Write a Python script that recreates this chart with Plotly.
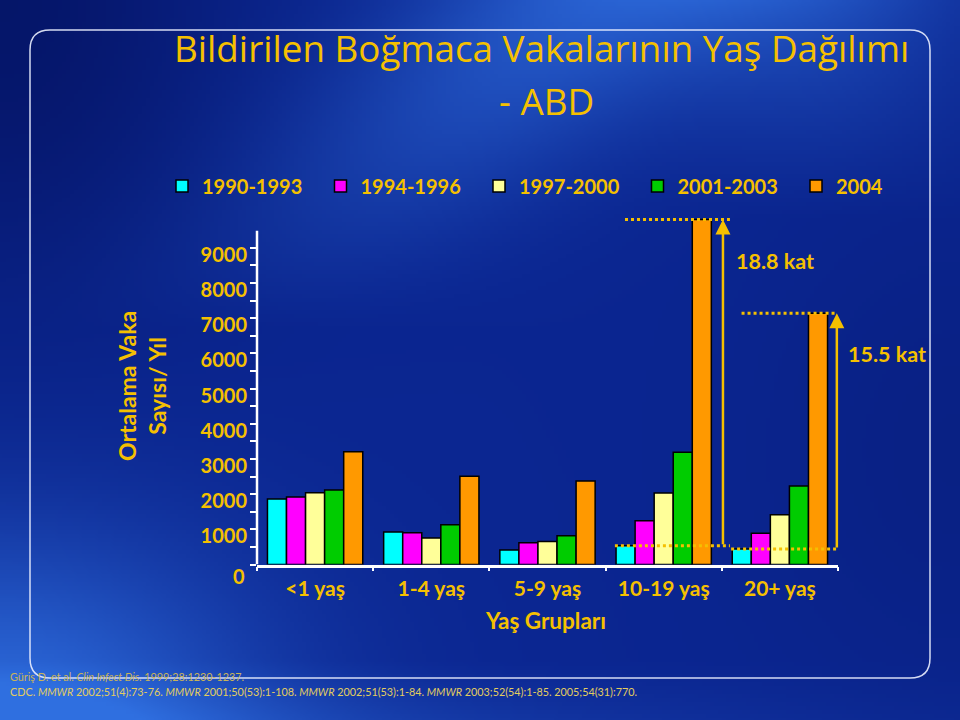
import base64, struct, zlib
import numpy as np
import plotly.graph_objects as go

# ---------------- data ----------------
categories = ["<1 yaş", "1-4 yaş", "5-9 yaş", "10-19 yaş", "20+ yaş"]
series_names = ["1990-1993", "1994-1996", "1997-2000", "2001-2003", "2004"]
v_1990_1993 = [1860, 920, 410, 530, 440]
v_1994_1996 = [1920, 900, 620, 1240, 890]
v_1997_2000 = [2040, 750, 650, 2030, 1410]
v_2001_2003 = [2120, 1130, 820, 3190, 2230]
v_2004 = [3200, 2510, 2370, 9800, 7140]
series_values = [v_1990_1993, v_1994_1996, v_1997_2000, v_2001_2003, v_2004]
series_colors = ["#00FFFF", "#FF00FF", "#FFFF99", "#00CC00", "#FF9900"]
fold_labels = ["18.8 kat", "15.5 kat"]
fold_groups = [3, 4]
y_tick_vals = list(range(0, 9001, 500))
y_tick_text = [str(v) if (v % 1000 == 0 and v > 0) else "" for v in y_tick_vals]

W, H = 960, 720
GOLD = "#F5C000"
FONT = "Lato"
TFONT = "Open Sans"


def px(x):
    return x / W


def py(y):
    return 1 - y / H


# ---------------- background gradient (PNG data URI) ----------------
def make_bg():
    s = 4
    w, h = W // s, H // s
    X, Y = np.meshgrid((np.arange(w) + 0.5) * s, (np.arange(h) + 0.5) * s)
    base = np.array([11, 38, 145], float)
    light = np.array([48, 112, 225], float)
    dark = np.array([4, 18, 96], float)
    fl = (0.75 * np.exp(-((X - 600 + 1.1 * Y) / 190) ** 2) * np.clip(1 - Y / 330, 0, 1)
          + 0.45 * np.exp(-((X - 820) / 160) ** 2) * np.clip(1 - Y / 220, 0, 1)
          + 0.9 * np.exp(-(X / 260) ** 2 - ((H - Y) / 190) ** 2)
          + 0.35 * np.clip((Y - 660) / 60, 0, 1) * np.exp(-(X / 700) ** 2))
    fd = (0.8 * np.exp(-(X / 230) ** 2 - (Y / 300) ** 2)
          + 0.25 * np.exp(-((X - 960) / 200) ** 2 - ((Y - 450) / 250) ** 2))
    fl = np.clip(fl, 0, 1)
    fd = np.clip(fd, 0, 1)
    col = base[None, None, :] * (1 - fl[..., None]) + light[None, None, :] * fl[..., None]
    col = col * (1 - fd[..., None]) + dark[None, None, :] * fd[..., None]
    arr = np.clip(col, 0, 255).astype(np.uint8)
    raw = b"".join(b"\x00" + row.tobytes() for row in arr)

    def chunk(t, d):
        c = struct.pack(">I", len(d)) + t + d
        return c + struct.pack(">I", zlib.crc32(t + d) & 0xFFFFFFFF)

    png = b"\x89PNG\r\n\x1a\n" + chunk(b"IHDR", struct.pack(">IIBBBBB", w, h, 8, 2, 0, 0, 0)) \
        + chunk(b"IDAT", zlib.compress(raw, 9)) + chunk(b"IEND", b"")
    return "data:image/png;base64," + base64.b64encode(png).decode()


fig = go.Figure()
for name, vals, color in zip(series_names, series_values, series_colors):
    fig.add_trace(go.Bar(
        x=categories, y=vals, name=name,
        marker=dict(color=color, line=dict(color="#000000", width=1.5)),
    ))

# plot area geometry (pixels)
X0, X1 = 257, 838
Y0PX = 564.5
PX_PER_1000 = 35.2
YMAX = 10000
ytop_px = Y0PX - PX_PER_1000 * YMAX / 1000

fig.update_layout(
    width=W, height=H,
    margin=dict(l=0, r=0, t=0, b=0),
    paper_bgcolor="#0b2691", plot_bgcolor="rgba(0,0,0,0)",
    barmode="group", bargap=0.18, bargroupgap=0,
    font=dict(family=FONT, color=GOLD),
    xaxis=dict(domain=[px(X0), px(X1)], range=[-0.5, 4.5], showline=True,
               linecolor="white", linewidth=2.5, ticks="outside", tickson="boundaries",
               ticklen=4, tickcolor="white", tickwidth=2, showgrid=False, zeroline=False,
               tickfont=dict(size=21, color=GOLD, family=FONT, weight="bold"),
               ticklabelstandoff=4),
    yaxis=dict(domain=[py(Y0PX), py(ytop_px)], range=[0, YMAX], showline=False,
               showgrid=False, zeroline=False, tickvals=y_tick_vals, ticktext=y_tick_text,
               ticks="outside", ticklen=6, tickwidth=2, tickcolor="white",
               tickfont=dict(size=20, color=GOLD, family=FONT, weight="bold"),
               ticklabelstandoff=-1, ticklabelshift=7),
    legend=dict(orientation="h", x=px(162), y=py(186), xanchor="left", yanchor="middle",
                font=dict(size=20, color=GOLD, family=FONT, weight="bold"),
                bgcolor="rgba(0,0,0,0)", entrywidth=113.5, entrywidthmode="pixels",
                itemwidth=30, traceorder="normal"),
    showlegend=True,
)

fig.add_layout_image(dict(source=make_bg(), xref="paper", yref="paper", x=0, y=1,
                          sizex=1, sizey=1, sizing="stretch", layer="below"))

# rounded frame
bx0, by0, bx1, by1, r = 30, 30, 930, 678, 20
path = (f"M {px(bx0 + r)},{py(by0)} L {px(bx1 - r)},{py(by0)} "
        f"Q {px(bx1)},{py(by0)} {px(bx1)},{py(by0 + r)} L {px(bx1)},{py(by1 - r)} "
        f"Q {px(bx1)},{py(by1)} {px(bx1 - r)},{py(by1)} L {px(bx0 + r)},{py(by1)} "
        f"Q {px(bx0)},{py(by1)} {px(bx0)},{py(by1 - r)} L {px(bx0)},{py(by0 + r)} "
        f"Q {px(bx0)},{py(by0)} {px(bx0 + r)},{py(by0)} Z")
fig.add_shape(type="path", path=path, xref="paper", yref="paper",
              line=dict(color="rgba(235,240,255,0.9)", width=1.5), layer="below")

# y axis line (extends slightly above the top tick)
fig.add_shape(type="line", xref="paper", yref="y", x0=px(X0), x1=px(X0), y0=0, y1=9480,
              line=dict(color="white", width=2.5))

# fold-change markers
spans_hi = [(2.667, 3.57), (3.67, 4.49)]
spans_lo = [(2.58, 3.57), (3.58, 4.49)]
arrow_x = [3.51, 4.49]
for k, g in enumerate(fold_groups):
    hi = series_values[4][g]
    lo = series_values[0][g]
    fig.add_shape(type="line", xref="x", yref="y", x0=spans_hi[k][0], x1=spans_hi[k][1],
                  y0=hi, y1=hi, line=dict(color=GOLD, width=3, dash="dot"))
    fig.add_shape(type="line", xref="x", yref="y", x0=spans_lo[k][0], x1=spans_lo[k][1],
                  y0=lo, y1=lo, line=dict(color=GOLD, width=3, dash="dot"))
    fig.add_annotation(x=arrow_x[k], y=hi, ax=arrow_x[k], ay=lo, xref="x", yref="y",
                       axref="x", ayref="y", showarrow=True, arrowhead=2, arrowsize=1.2,
                       arrowwidth=2.5, arrowcolor=GOLD, standoff=0, startstandoff=0, text="")


def label(x, y, text, size, bold=True, family=FONT, xanchor="center", angle=0, color=GOLD):
    fig.add_annotation(x=px(x), y=py(y), xref="paper", yref="paper", text=text,
                       xanchor=xanchor, yanchor="middle", textangle=angle, showarrow=False,
                       font=dict(size=size, color=color, family=family,
                                 weight="bold" if bold else "normal"))


label(775, 261, fold_labels[0], 21.5)
label(887, 354, fold_labels[1], 21.5)

# titles
label(541, 48, "Bildirilen Boğmaca Vakalarının Yaş Dağılımı", 36.8, bold=False, family=TFONT)
label(546, 101, "- ABD", 36.8, bold=False, family=TFONT)

label(142, 386, "Ortalama Vaka<br>Sayısı/ Yıl", 23, angle=-90)
label(545, 620, "Yaş Grupları", 22.5)
label(247, 576, "0", 20, xanchor="right")

# references
label(8, 676, "Güriş D. et al. <i>Clin Infect Dis</i>. 1999;28:1230-1237.", 10.8,
      bold=False, xanchor="left", color="#C9B45A")
label(8, 691, ("CDC. <i>MMWR</i> 2002;51(4):73-76. <i>MMWR</i> 2001;50(53):1-108. "
               "<i>MMWR</i> 2002;51(53):1-84. <i>MMWR</i> 2003;52(54):1-85. "
               "2005;54(31):770."), 10.8, bold=False, xanchor="left", color="#E3CD5E")

fig.write_html("out.html")
